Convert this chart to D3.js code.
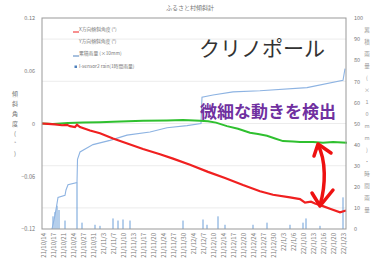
<!DOCTYPE html>
<html>
<head>
<meta charset="utf-8">
<script src="https://cdn.jsdelivr.net/npm/d3@7"></script>
<style>
  body { margin: 0; background: white; }
  text { font-family: "Noto Sans CJK JP", "Noto Sans", sans-serif; }
</style>
</head>
<body>
<div id="chart"></div>
<script>
// tick labels
var dateLabels = ['21/10/14','21/10/17','21/10/21','21/10/24','21/10/27','21/10/31','21/11/3','21/11/7',
  '21/11/10','21/11/13','21/11/17','21/11/20','21/11/24','21/11/27','21/11/30','21/12/4','21/12/7',
  '21/12/10','21/12/14','21/12/17','21/12/20','21/12/24','21/12/27','21/12/30','22/1/3','22/1/6',
  '22/1/10','22/1/13','22/1/16','22/1/20','22/1/23'];
var leftTicks = [0.12, 0.06, 0, -0.06, -0.12];
var rightTicks = [0, 10, 20, 30, 40, 50, 60, 70, 80, 90, 100];

// series: [position in label index, value]
var tiltX = [[-0.1,0],[0.5,-0.0005],[1.2,-0.001],[1.9,-0.002],[2.4,-0.0015],[2.7,-0.003],[3.2,-0.004],
  [3.4,-0.0015],[3.7,-0.004],[4.7,-0.008],[5.7,-0.011],[7,-0.017],[8.5,-0.023],[10,-0.029],[11.7,-0.035],
  [13,-0.040],[14.7,-0.047],[16.5,-0.055],[18.2,-0.062],[20,-0.070],[21.7,-0.077],[23,-0.081],[24.7,-0.084],
  [25.7,-0.086],[26.2,-0.090],[26.8,-0.089],[27.2,-0.091],[28,-0.094],[28.7,-0.097],[29.7,-0.101],[30.3,-0.099]];
var tiltY = [[-0.1,0],[1,-0.0005],[2.5,0.0005],[4,0.001],[5.7,0.0015],[7,0.002],[8.5,0.0025],[10,0.003],
  [12.4,0.0035],[14,0.004],[15.7,0.003],[16.5,0.0025],[17.3,0.001],[18.4,-0.003],[19.5,-0.006],[20.7,-0.0105],
  [21.5,-0.012],[22.4,-0.014],[23.2,-0.017],[24,-0.020],[25,-0.0205],[25.7,-0.021],[27,-0.021],[28,-0.022],
  [29,-0.021],[30.4,-0.022]];
var cumRain = [[0.9,0],[1.2,6.6],[1.4,12],[1.5,15],[2.2,16],[2.3,18.5],[2.5,21],[3.4,22],[3.45,33],[3.7,36.5],
  [5,40],[6.7,42],[8.4,44.5],[10.7,46],[12.4,48],[14.4,49],[15.8,50],[15.9,62.5],[17,63.5],[19,65],
  [21.7,65.5],[26.4,67],[30,70.5],[30.2,76]];
var hourRain = [[1,6],[1.2,8],[1.4,11],[1.6,9],[2.2,4],[3.4,22],[3.9,3],[5.2,2],[5.7,1.5],[7,5],[7.5,4],
  [8,4.5],[8.7,4],[14,4],[16,4.5],[16.4,2],[17.5,6],[18.2,2],[21,2],[22.4,3],[24.7,2],[26,3],[26.3,5],
  [27.7,1.5],[30,15]];
var legendNames = ['X方向傾斜角度 (°)', 'Y方向傾斜角度 (°)', '累積雨量 (×10mm)', 'I-sensor2 rain(1時間雨量)'];

var svgWidth = 371, svgHeight = 269;
var plotL = 42, plotR = 346, plotT = 18, plotB = 229;

var svg = d3.select('#chart').append('svg')
    .attr('width', svgWidth).attr('height', svgHeight)
    .style('background', 'white');

var xBand = d3.scalePoint().domain(dateLabels).range([43, 343]);
var x = d3.scaleLinear().domain([0, dateLabels.length - 1]).range([43, 343]);
var yL = d3.scaleLinear().domain([-0.12, 0.12]).range([plotB, plotT]);
var yR = d3.scaleLinear().domain([0, 100]).range([plotB, plotT]);

// faint grid
svg.append('g').selectAll('line').data([10, 30, 50, 70, 90]).join('line')
    .attr('x1', plotL).attr('x2', plotR)
    .attr('y1', d => yR(d)).attr('y2', d => yR(d))
    .attr('stroke', '#e4e4e4').attr('stroke-width', 0.7);

// hourly rain spikes
svg.append('g').selectAll('line').data(hourRain).join('line')
    .attr('x1', d => x(d[0])).attr('x2', d => x(d[0]))
    .attr('y1', yR(0)).attr('y2', d => yR(d[1]))
    .attr('stroke', '#6c9fd8').attr('stroke-width', 1);

// cumulative rain line
svg.append('path').datum(cumRain)
    .attr('d', d3.line().x(d => x(d[0])).y(d => yR(d[1])))
    .attr('fill', 'none').attr('stroke', '#8db3e2').attr('stroke-width', 1.1);

// tilt lines
svg.append('path').datum(tiltY)
    .attr('d', d3.line().x(d => x(d[0])).y(d => yL(d[1])))
    .attr('fill', 'none').attr('stroke', '#2fc02f').attr('stroke-width', 2);
svg.append('path').datum(tiltX)
    .attr('d', d3.line().x(d => x(d[0])).y(d => yL(d[1])))
    .attr('fill', 'none').attr('stroke', '#f02020').attr('stroke-width', 2.2);

// frame
svg.append('rect')
    .attr('x', plotL).attr('y', plotT).attr('width', plotR - plotL).attr('height', plotB - plotT)
    .attr('fill', 'none').attr('stroke', '#999').attr('stroke-width', 1);

// left axis
var gL = svg.append('g').attr('transform', 'translate(' + plotL + ',0)')
    .call(d3.axisLeft(yL).tickValues(leftTicks).tickSize(0).tickPadding(7)
      .tickFormat(d => d === 0 ? '0' : d3.format('.2f')(d)));
gL.select('.domain').remove();
gL.selectAll('text').attr('font-size', 5.5).attr('fill', '#777');

// right axis
var gR = svg.append('g').attr('transform', 'translate(' + plotR + ',0)')
    .call(d3.axisRight(yR).tickValues(rightTicks).tickSize(0).tickPadding(8));
gR.select('.domain').remove();
gR.selectAll('text').attr('font-size', 5.5).attr('fill', '#777');

// bottom axis
var gB = svg.append('g').attr('transform', 'translate(0,' + plotB + ')')
    .call(d3.axisBottom(xBand).tickSize(0).tickPadding(0));
gB.select('.domain').remove();
gB.selectAll('text')
    .attr('font-size', 6).attr('fill', '#777')
    .attr('text-anchor', 'end')
    .attr('transform', 'rotate(-90)')
    .attr('x', -4).attr('y', 0).attr('dy', '0.35em');

// title
svg.append('text').text('ふるさと村傾斜計')
    .attr('x', 190).attr('y', 10).attr('text-anchor', 'middle')
    .attr('font-size', 6).attr('fill', '#777');

// left axis title (stacked)
var yTitle = ['傾', '斜', '角', '度', '(', '°', ')'];
svg.append('g').selectAll('text').data(yTitle).join('text')
    .text(d => d)
    .attr('x', 15).attr('y', (d, i) => 96 + i * 10)
    .attr('text-anchor', 'middle').attr('font-size', 6).attr('fill', '#777');

// right axis title (stacked, cut at edge)
var yTitleR = ['累', '積', '雨', '量', '(', '×', '1', '0', 'm', 'm', ')', '・', '時', '間', '雨', '量'];
svg.append('g').selectAll('text').data(yTitleR).join('text')
    .text(d => d)
    .attr('x', 367).attr('y', (d, i) => 32 + i * 12)
    .attr('text-anchor', 'middle').attr('font-size', 5.5).attr('fill', '#999');

// legend
var leg = svg.append('g');
leg.selectAll('text').data(legendNames).join('text')
    .text(d => d)
    .attr('x', 79).attr('y', (d, i) => [31, 43, 55, 68][i])
    .attr('font-size', 4.8).attr('fill', '#777');
leg.append('line').attr('x1', 73).attr('x2', 79).attr('y1', 32).attr('y2', 32)
    .attr('stroke', '#f02020').attr('stroke-width', 1);
leg.append('line').attr('x1', 73).attr('x2', 79).attr('y1', 56).attr('y2', 56)
    .attr('stroke', '#4f81bd').attr('stroke-width', 1);
leg.append('rect').attr('x', 74.5).attr('y', 65.5).attr('width', 2.5).attr('height', 2.5)
    .attr('fill', '#4f81bd');

// annotations
svg.append('text').text('クリノポール')
    .attr('x', 262).attr('y', 56).attr('text-anchor', 'middle')
    .attr('font-size', 21).attr('fill', '#333');
svg.append('text').text('微細な動きを検出')
    .attr('x', 268).attr('y', 118).attr('text-anchor', 'middle')
    .attr('font-size', 17).attr('font-weight', 'bold').attr('fill', '#7030a0');

// double arrow
svg.append('path')
    .attr('d', 'M318,145 C326,160 326,185 320,205')
    .attr('fill', 'none').attr('stroke', '#ee1111').attr('stroke-width', 3.5);
svg.append('path')
    .attr('d', 'M314,156 L318,144 L331,153')
    .attr('fill', 'none').attr('stroke', '#ee1111').attr('stroke-width', 3.5)
    .attr('stroke-linejoin', 'round').attr('stroke-linecap', 'round');
svg.append('path')
    .attr('d', 'M312,193 L320,206 L333,190')
    .attr('fill', 'none').attr('stroke', '#ee1111').attr('stroke-width', 3.5)
    .attr('stroke-linejoin', 'round').attr('stroke-linecap', 'round');
</script>
</body>
</html>
